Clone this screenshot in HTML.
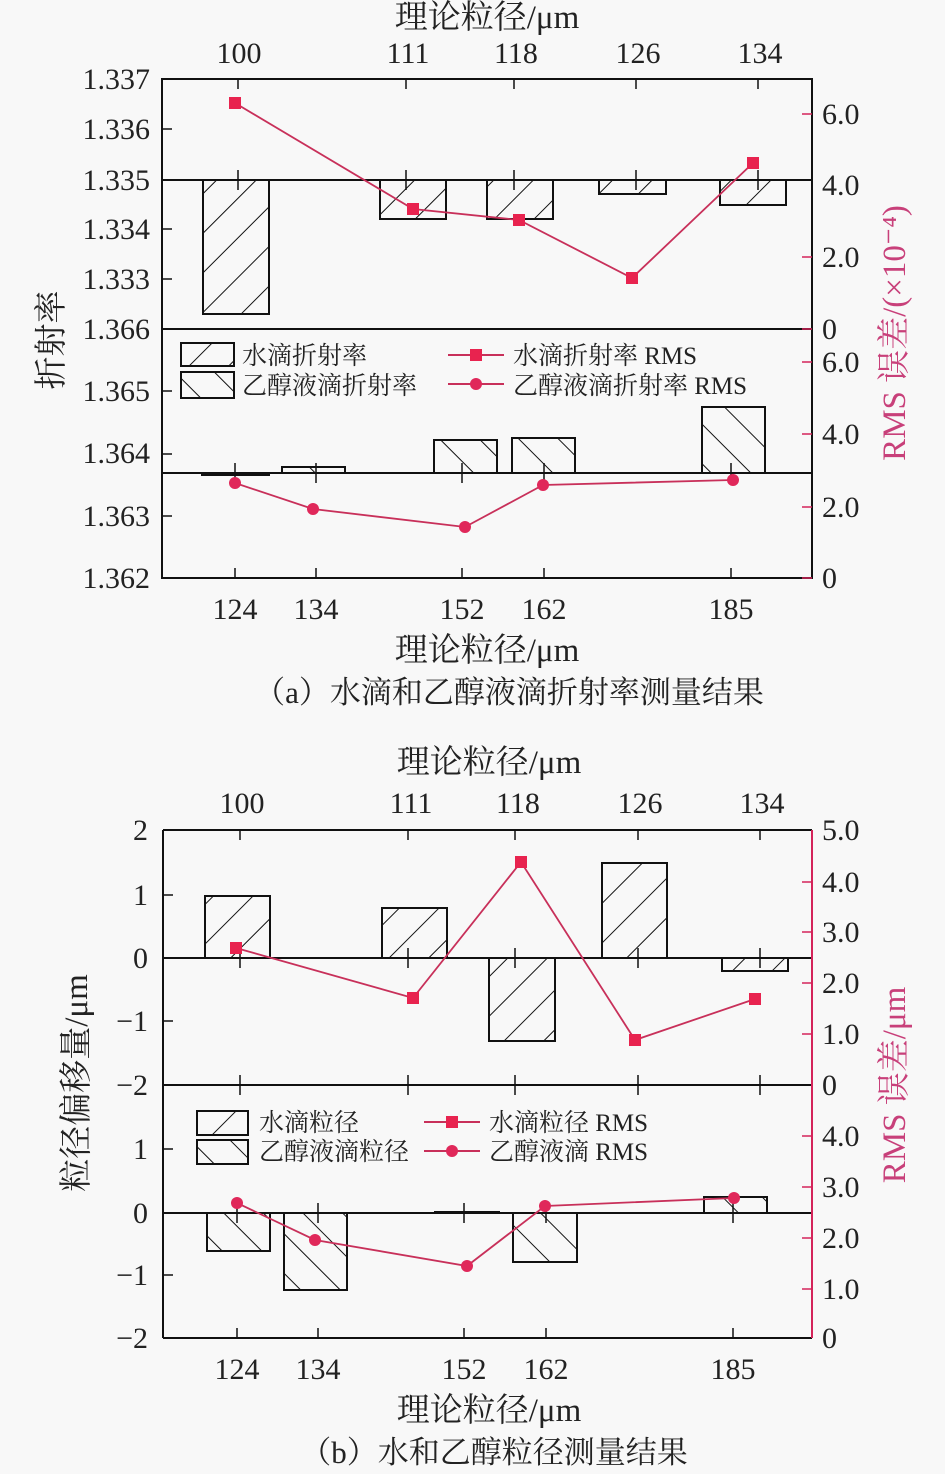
<!DOCTYPE html>
<html><head><meta charset="utf-8"><style>
html,body{margin:0;padding:0;background:#f8f8f8;}
svg{display:block;}
text{font-family:"Liberation Serif","Noto Serif CJK SC","Noto Sans CJK SC",serif;fill:#222;}
.n{font-size:30px;}
.lg{font-size:25px;}
.cj{font-size:33px;}
.cp{font-size:31px;}
.pk{fill:#c8407a;}
</style></head><body>
<svg width="945" height="1474" viewBox="0 0 945 1474" xmlns="http://www.w3.org/2000/svg">
<defs>
<pattern id="hf" patternUnits="userSpaceOnUse" width="28" height="28" patternTransform="rotate(45)">
<line x1="0" y1="0" x2="0" y2="28" stroke="#111" stroke-width="2"/></pattern>
<pattern id="hb" patternUnits="userSpaceOnUse" width="28" height="28" patternTransform="rotate(-45)">
<line x1="0" y1="0" x2="0" y2="28" stroke="#111" stroke-width="2"/></pattern>
</defs>
<rect width="945" height="1474" fill="#f8f8f8"/>

<!-- ============ (a) ============ -->
<g stroke="#111" stroke-width="2" fill="none">
<rect x="162" y="79" width="650" height="499"/>
<line x1="162" y1="329" x2="812" y2="329"/>
<line x1="162" y1="180" x2="812" y2="180"/>
<line x1="162" y1="473" x2="812" y2="473"/>
</g>
<g stroke="#111" stroke-width="1.5">
<line x1="162" y1="129" x2="172" y2="129"/><line x1="162" y1="229" x2="172" y2="229"/><line x1="162" y1="279" x2="172" y2="279"/>
<line x1="162" y1="391" x2="172" y2="391"/><line x1="162" y1="454" x2="172" y2="454"/><line x1="162" y1="516" x2="172" y2="516"/>
<line x1="238" y1="79" x2="238" y2="89"/><line x1="406" y1="79" x2="406" y2="89"/><line x1="514" y1="79" x2="514" y2="89"/><line x1="636" y1="79" x2="636" y2="89"/><line x1="758" y1="79" x2="758" y2="89"/>
<line x1="238" y1="170" x2="238" y2="190"/><line x1="406" y1="170" x2="406" y2="190"/><line x1="514" y1="170" x2="514" y2="190"/><line x1="636" y1="170" x2="636" y2="190"/><line x1="758" y1="170" x2="758" y2="190"/>
<line x1="235" y1="568" x2="235" y2="578"/><line x1="316" y1="568" x2="316" y2="578"/><line x1="462" y1="568" x2="462" y2="578"/><line x1="544" y1="568" x2="544" y2="578"/><line x1="731" y1="568" x2="731" y2="578"/>
<line x1="235" y1="463" x2="235" y2="483"/><line x1="316" y1="463" x2="316" y2="483"/><line x1="462" y1="463" x2="462" y2="483"/><line x1="544" y1="463" x2="544" y2="483"/><line x1="731" y1="463" x2="731" y2="483"/>
</g>
<g stroke="#d4245a" stroke-width="1.5">
<line x1="802" y1="114" x2="812" y2="114"/><line x1="802" y1="257" x2="812" y2="257"/><line x1="802" y1="329" x2="812" y2="329"/>
<line x1="802" y1="362" x2="812" y2="362"/><line x1="802" y1="434" x2="812" y2="434"/><line x1="802" y1="507" x2="812" y2="507"/><line x1="802" y1="578" x2="812" y2="578"/>
</g>
<g stroke="#111" stroke-width="2">
<rect x="203" y="180" width="66" height="134" fill="url(#hf)"/>
<rect x="380" y="180" width="66" height="39" fill="url(#hf)"/>
<rect x="487" y="180" width="66" height="39" fill="url(#hf)"/>
<rect x="599" y="180" width="67" height="14" fill="url(#hf)"/>
<rect x="720" y="180" width="66" height="25" fill="url(#hf)"/>
<rect x="202" y="473" width="67" height="2" fill="#fff"/>
<rect x="282" y="467" width="63" height="6" fill="url(#hb)"/>
<rect x="434" y="440" width="63" height="33" fill="url(#hb)"/>
<rect x="512" y="438" width="63" height="35" fill="url(#hb)"/>
<rect x="702" y="407" width="63" height="66" fill="url(#hb)"/>
</g>
<polyline points="235,103 413,209 519,220 632,278 753,163" fill="none" stroke="#c8305a" stroke-width="1.8"/>
<g fill="#e8234f"><rect x="229" y="97" width="12" height="12"/><rect x="407" y="203" width="12" height="12"/><rect x="513" y="214" width="12" height="12"/><rect x="626" y="272" width="12" height="12"/><rect x="747" y="157" width="12" height="12"/></g>
<polyline points="235,483 313,509 465,527 543,485 733,480" fill="none" stroke="#c8305a" stroke-width="1.8"/>
<g fill="#e0285a"><circle cx="235" cy="483" r="6"/><circle cx="313" cy="509" r="6"/><circle cx="465" cy="527" r="6"/><circle cx="543" cy="485" r="6"/><circle cx="733" cy="480" r="6"/></g>
<g stroke="#111" stroke-width="2">
<rect x="181" y="343" width="53" height="23" fill="url(#hf)"/>
<rect x="181" y="372" width="53" height="26" fill="url(#hb)"/>
</g>
<line x1="448" y1="355" x2="504" y2="355" stroke="#c8305a" stroke-width="2"/><rect x="470" y="349" width="12" height="12" fill="#e8234f"/>
<line x1="448" y1="384" x2="504" y2="384" stroke="#c8305a" stroke-width="2"/><circle cx="476" cy="384" r="6" fill="#e0285a"/>
<text class="lg" x="242" y="364">水滴折射率</text>
<text class="lg" x="242" y="394">乙醇液滴折射率</text>
<text class="lg" x="513" y="364">水滴折射率 RMS</text>
<text class="lg" x="513" y="394">乙醇液滴折射率 RMS</text>
<g class="n" text-anchor="end">
<text x="150" y="89">1.337</text><text x="150" y="139">1.336</text><text x="150" y="190">1.335</text><text x="150" y="239">1.334</text><text x="150" y="289">1.333</text><text x="150" y="339">1.366</text>
<text x="150" y="401">1.365</text><text x="150" y="463">1.364</text><text x="150" y="526">1.363</text><text x="150" y="588">1.362</text>
</g>
<g class="n pk">
<text x="822" y="124">6.0</text><text x="822" y="195">4.0</text><text x="822" y="267">2.0</text><text x="822" y="339">0</text>
<text x="822" y="372">6.0</text><text x="822" y="444">4.0</text><text x="822" y="517">2.0</text><text x="822" y="588">0</text>
</g>
<g class="n" text-anchor="middle">
<text x="239" y="63">100</text><text x="408" y="63">111</text><text x="516" y="63">118</text><text x="638" y="63">126</text><text x="760" y="63">134</text>
<text x="235" y="619">124</text><text x="316" y="619">134</text><text x="462" y="619">152</text><text x="544" y="619">162</text><text x="731" y="619">185</text>
</g>
<text class="cj" x="487" y="28" text-anchor="middle">理论粒径/μm</text>
<text class="cj" x="487" y="661" text-anchor="middle">理论粒径/μm</text>
<text class="cp" x="509" y="703" text-anchor="middle">（a）水滴和乙醇液滴折射率测量结果</text>
<text class="cj" transform="translate(62,340) rotate(-90)" text-anchor="middle">折射率</text>
<text class="cj pk" transform="translate(905,333) rotate(-90)" text-anchor="middle">RMS 误差/(×10⁻⁴)</text>

<!-- ============ (b) ============ -->
<g stroke="#111" stroke-width="2" fill="none">
<line x1="163" y1="830" x2="812" y2="830"/>
<line x1="163" y1="830" x2="163" y2="1338"/>
<line x1="163" y1="1338" x2="812" y2="1338"/>
<line x1="163" y1="1085" x2="812" y2="1085"/>
<line x1="163" y1="958" x2="812" y2="958"/>
<line x1="163" y1="1213" x2="812" y2="1213"/>
</g>
<line x1="812" y1="830" x2="812" y2="1338" stroke="#d4245a" stroke-width="2"/>
<g stroke="#111" stroke-width="1.5">
<line x1="163" y1="895" x2="173" y2="895"/><line x1="163" y1="1021" x2="173" y2="1021"/><line x1="163" y1="1149" x2="173" y2="1149"/><line x1="163" y1="1275" x2="173" y2="1275"/>
<line x1="240" y1="830" x2="240" y2="840"/><line x1="408" y1="830" x2="408" y2="840"/><line x1="515" y1="830" x2="515" y2="840"/><line x1="638" y1="830" x2="638" y2="840"/><line x1="760" y1="830" x2="760" y2="840"/>
<line x1="240" y1="948" x2="240" y2="968"/><line x1="408" y1="948" x2="408" y2="968"/><line x1="515" y1="948" x2="515" y2="968"/><line x1="638" y1="948" x2="638" y2="968"/><line x1="760" y1="948" x2="760" y2="968"/>
<line x1="240" y1="1075" x2="240" y2="1095"/><line x1="408" y1="1075" x2="408" y2="1095"/><line x1="515" y1="1075" x2="515" y2="1095"/><line x1="638" y1="1075" x2="638" y2="1095"/><line x1="760" y1="1075" x2="760" y2="1095"/>
<line x1="237" y1="1328" x2="237" y2="1338"/><line x1="318" y1="1328" x2="318" y2="1338"/><line x1="464" y1="1328" x2="464" y2="1338"/><line x1="546" y1="1328" x2="546" y2="1338"/><line x1="733" y1="1328" x2="733" y2="1338"/>
<line x1="237" y1="1203" x2="237" y2="1223"/><line x1="318" y1="1203" x2="318" y2="1223"/><line x1="464" y1="1203" x2="464" y2="1223"/><line x1="546" y1="1203" x2="546" y2="1223"/><line x1="733" y1="1203" x2="733" y2="1223"/>
</g>
<g stroke="#d4245a" stroke-width="1.5">
<line x1="802" y1="882" x2="812" y2="882"/><line x1="802" y1="932" x2="812" y2="932"/><line x1="802" y1="983" x2="812" y2="983"/><line x1="802" y1="1034" x2="812" y2="1034"/>
<line x1="802" y1="1136" x2="812" y2="1136"/><line x1="802" y1="1187" x2="812" y2="1187"/><line x1="802" y1="1238" x2="812" y2="1238"/><line x1="802" y1="1289" x2="812" y2="1289"/>
</g>
<g stroke="#111" stroke-width="2">
<rect x="205" y="896" width="65" height="62" fill="url(#hf)"/>
<rect x="382" y="908" width="65" height="50" fill="url(#hf)"/>
<rect x="489" y="958" width="66" height="83" fill="url(#hf)"/>
<rect x="602" y="863" width="65" height="95" fill="url(#hf)"/>
<rect x="722" y="958" width="66" height="13" fill="url(#hf)"/>
<rect x="207" y="1213" width="63" height="38" fill="url(#hb)"/>
<rect x="284" y="1213" width="63" height="77" fill="url(#hb)"/>
<line x1="434" y1="1212" x2="500" y2="1212"/>
<rect x="513" y="1213" width="64" height="49" fill="url(#hb)"/>
<rect x="704" y="1197" width="63" height="16" fill="url(#hb)"/>
</g>
<polyline points="236,948 413,998 521,862 635,1040 755,999" fill="none" stroke="#c8305a" stroke-width="1.8"/>
<g fill="#e8234f"><rect x="230" y="942" width="12" height="12"/><rect x="407" y="992" width="12" height="12"/><rect x="515" y="856" width="12" height="12"/><rect x="629" y="1034" width="12" height="12"/><rect x="749" y="993" width="12" height="12"/></g>
<polyline points="237,1203 315,1240 467,1266 545,1206 734,1198" fill="none" stroke="#c8305a" stroke-width="1.8"/>
<g fill="#e0285a"><circle cx="237" cy="1203" r="6"/><circle cx="315" cy="1240" r="6"/><circle cx="467" cy="1266" r="6"/><circle cx="545" cy="1206" r="6"/><circle cx="734" cy="1198" r="6"/></g>
<g stroke="#111" stroke-width="2">
<rect x="197" y="1111" width="51" height="24" fill="url(#hf)"/>
<rect x="197" y="1140" width="51" height="24" fill="url(#hb)"/>
</g>
<line x1="424" y1="1122" x2="480" y2="1122" stroke="#c8305a" stroke-width="2"/><rect x="446" y="1116" width="12" height="12" fill="#e8234f"/>
<line x1="424" y1="1151" x2="480" y2="1151" stroke="#c8305a" stroke-width="2"/><circle cx="452" cy="1151" r="6" fill="#e0285a"/>
<text class="lg" x="259" y="1131">水滴粒径</text>
<text class="lg" x="259" y="1160">乙醇液滴粒径</text>
<text class="lg" x="489" y="1131">水滴粒径 RMS</text>
<text class="lg" x="489" y="1160">乙醇液滴 RMS</text>
<g class="n" text-anchor="end">
<text x="148" y="840">2</text><text x="148" y="905">1</text><text x="148" y="968">0</text><text x="148" y="1031">−1</text><text x="148" y="1095">−2</text>
<text x="148" y="1159">1</text><text x="148" y="1223">0</text><text x="148" y="1285">−1</text><text x="148" y="1348">−2</text>
</g>
<g class="n pk">
<text x="822" y="840">5.0</text><text x="822" y="892">4.0</text><text x="822" y="942">3.0</text><text x="822" y="993">2.0</text><text x="822" y="1044">1.0</text><text x="822" y="1095">0</text>
<text x="822" y="1146">4.0</text><text x="822" y="1197">3.0</text><text x="822" y="1248">2.0</text><text x="822" y="1299">1.0</text><text x="822" y="1348">0</text>
</g>
<g class="n" text-anchor="middle">
<text x="242" y="813">100</text><text x="411" y="813">111</text><text x="518" y="813">118</text><text x="640" y="813">126</text><text x="762" y="813">134</text>
<text x="237" y="1379">124</text><text x="318" y="1379">134</text><text x="464" y="1379">152</text><text x="546" y="1379">162</text><text x="733" y="1379">185</text>
</g>
<text class="cj" x="489" y="773" text-anchor="middle">理论粒径/μm</text>
<text class="cj" x="489" y="1421" text-anchor="middle">理论粒径/μm</text>
<text class="cp" x="494" y="1463" text-anchor="middle">（b）水和乙醇粒径测量结果</text>
<text class="cj" transform="translate(87,1083) rotate(-90)" text-anchor="middle">粒径偏移量/μm</text>
<text class="cj pk" transform="translate(905,1085) rotate(-90)" text-anchor="middle">RMS 误差/μm</text>
</svg>
</body></html>
